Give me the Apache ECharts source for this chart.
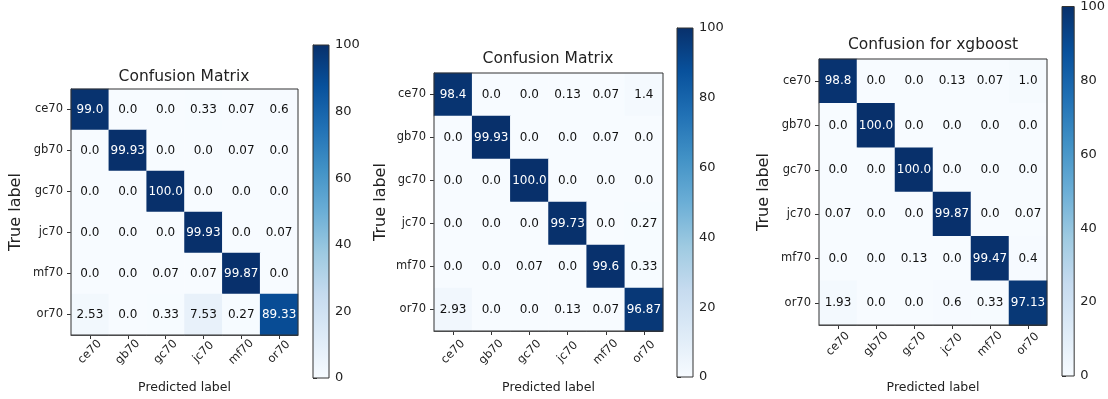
<!DOCTYPE html>
<html>
<head>
<meta charset="utf-8">
<title>Confusion matrices</title>
<script src="https://cdn.jsdelivr.net/npm/echarts@6/dist/echarts.min.js"></script>
<style>
  html, body { margin: 0; padding: 0; background: #ffffff; }
  #chart { width: 1108px; height: 399px; }
</style>
</head>
<body>
<div id="chart"></div>
<script>
// Class labels shared by both axes of every matrix
const CLASSES = ['ce70', 'gb70', 'gc70', 'jc70', 'mf70', 'or70'];

// Row = true label, column = predicted label (percent of each true class)
const MATRIX_A = [
  [99.0, 0.0, 0.0, 0.33, 0.07, 0.6],
  [0.0, 99.93, 0.0, 0.0, 0.07, 0.0],
  [0.0, 0.0, 100.0, 0.0, 0.0, 0.0],
  [0.0, 0.0, 0.0, 99.93, 0.0, 0.07],
  [0.0, 0.0, 0.07, 0.07, 99.87, 0.0],
  [2.53, 0.0, 0.33, 7.53, 0.27, 89.33]
];
const MATRIX_B = [
  [98.4, 0.0, 0.0, 0.13, 0.07, 1.4],
  [0.0, 99.93, 0.0, 0.0, 0.07, 0.0],
  [0.0, 0.0, 100.0, 0.0, 0.0, 0.0],
  [0.0, 0.0, 0.0, 99.73, 0.0, 0.27],
  [0.0, 0.0, 0.07, 0.0, 99.6, 0.33],
  [2.93, 0.0, 0.0, 0.13, 0.07, 96.87]
];
const MATRIX_XGB = [
  [98.8, 0.0, 0.0, 0.13, 0.07, 1.0],
  [0.0, 100.0, 0.0, 0.0, 0.0, 0.0],
  [0.0, 0.0, 100.0, 0.0, 0.0, 0.0],
  [0.07, 0.0, 0.0, 99.87, 0.0, 0.07],
  [0.0, 0.0, 0.13, 0.0, 99.47, 0.4],
  [1.93, 0.0, 0.0, 0.6, 0.33, 97.13]
];

const TITLES = ['Confusion Matrix', 'Confusion Matrix', 'Confusion for xgboost'];
const COLORBAR_TICKS = [0, 20, 40, 60, 80, 100];

// "Blues" colour ramp, light to dark
const BLUES = ['#f7fbff', '#deebf7', '#c6dbef', '#9ecae1', '#6baed6',
               '#4292c6', '#2171b5', '#08519c', '#08306b'];

const MATRICES = [MATRIX_A, MATRIX_B, MATRIX_XGB];

// Panel geometry (pixels)
const PANELS = [
  { heat: { left: 71,  top: 89, width: 227, height: 247 },
    bar:  { left: 313, top: 45, width: 16,  height: 333 },
    titleX: 184, titleY: 77, yNameGap: 47, xNameGap: 46, xLabelMargin: 17 },
  { heat: { left: 434, top: 73, width: 229, height: 259 },
    bar:  { left: 677, top: 28, width: 16,  height: 349 },
    titleX: 548, titleY: 59, yNameGap: 45, xNameGap: 50, xLabelMargin: 21 },
  { heat: { left: 819, top: 59, width: 228, height: 268 },
    bar:  { left: 1062, top: 5, width: 15,  height: 371 },
    titleX: 933, titleY: 45, yNameGap: 47, xNameGap: 56, xLabelMargin: 19 }
];

const FONT = 'DejaVu Sans';
const INK = '#222222';
const VMIN = Math.min(...COLORBAR_TICKS);
const VMAX = Math.max(...COLORBAR_TICKS);
const TICK_STEP = COLORBAR_TICKS[1] - COLORBAR_TICKS[0];

function fmt(v) {
  return Number.isInteger(v) ? v.toFixed(1) : String(v);
}

// Vertical gradient for the colour bars: dark at the top (max), light at the bottom
const barGradient = {
  type: 'linear', x: 0, y: 0, x2: 0, y2: 1,
  colorStops: BLUES.slice().reverse().map((c, i) => ({ offset: i / (BLUES.length - 1), color: c }))
};

const grid = [], xAxis = [], yAxis = [], series = [], title = [];

PANELS.forEach((p, k) => {
  const hg = grid.length;
  grid.push(Object.assign({ show: true, z: 5, backgroundColor: 'transparent',
    borderColor: '#333', borderWidth: 1 }, p.heat));
  const bg = grid.length;
  grid.push(Object.assign({ show: true, z: 5, backgroundColor: barGradient,
    borderColor: '#333', borderWidth: 1 }, p.bar));

  // Matrix axes
  xAxis.push({
    gridIndex: hg, type: 'category', data: CLASSES,
    name: 'Predicted label', nameLocation: 'middle', nameGap: p.xNameGap,
    nameTextStyle: { fontFamily: FONT, fontSize: 12.5, color: INK },
    axisLine: { show: true, lineStyle: { color: '#333', width: 1 } },
    axisTick: { show: true, alignWithLabel: true, length: 4, lineStyle: { color: '#333' } },
    axisLabel: { rotate: 45, margin: p.xLabelMargin, align: 'center', verticalAlign: 'middle',
      fontFamily: FONT, fontSize: 11.5, color: INK },
    splitLine: { show: false }
  });
  yAxis.push({
    gridIndex: hg, type: 'category', data: CLASSES, inverse: true,
    name: 'True label', nameLocation: 'middle', nameGap: p.yNameGap,
    nameTextStyle: { fontFamily: FONT, fontSize: 16, color: INK },
    axisLine: { show: true, lineStyle: { color: '#333', width: 1 } },
    axisTick: { show: true, alignWithLabel: true, length: 4, lineStyle: { color: '#333' } },
    axisLabel: { margin: 8, fontFamily: FONT, fontSize: 11.5, color: INK },
    splitLine: { show: false }
  });

  // Colour bar axes
  xAxis.push({ gridIndex: bg, type: 'value', show: false, min: 0, max: 1 });
  yAxis.push({
    gridIndex: bg, type: 'value', position: 'right',
    min: VMIN, max: VMAX, interval: TICK_STEP,
    axisLine: { show: true, lineStyle: { color: '#333', width: 1 } },
    axisTick: { show: true, length: 4, lineStyle: { color: '#333' } },
    axisLabel: { margin: 6, fontFamily: FONT, fontSize: 13, color: INK },
    splitLine: { show: false }
  });

  const data = [];
  MATRICES[k].forEach((row, r) => {
    row.forEach((v, c) => {
      data.push({
        value: [c, r, v],
        label: { color: v > VMAX / 2 ? '#ffffff' : '#111111' }
      });
    });
  });

  series.push({
    type: 'heatmap',
    xAxisIndex: hg, yAxisIndex: hg,
    data: data,
    label: {
      show: true, fontFamily: FONT, fontSize: 12,
      formatter: params => fmt(params.value[2])
    },
    itemStyle: { borderWidth: 0 },
    emphasis: { disabled: true }
  });

  title.push({
    text: TITLES[k], left: p.titleX, top: p.titleY, padding: 0,
    textAlign: 'center', textVerticalAlign: 'middle',
    textStyle: { fontFamily: FONT, fontSize: 15.5, fontWeight: 'normal', color: INK }
  });
});

const chart = echarts.init(document.getElementById('chart'), null, { renderer: 'canvas' });
chart.setOption({
  backgroundColor: '#ffffff',
  animation: false,
  title: title,
  grid: grid,
  xAxis: xAxis,
  yAxis: yAxis,
  visualMap: {
    type: 'continuous', show: false,
    min: VMIN, max: VMAX,
    seriesIndex: [0, 1, 2],
    inRange: { color: BLUES }
  },
  series: series
});
</script>
</body>
</html>
